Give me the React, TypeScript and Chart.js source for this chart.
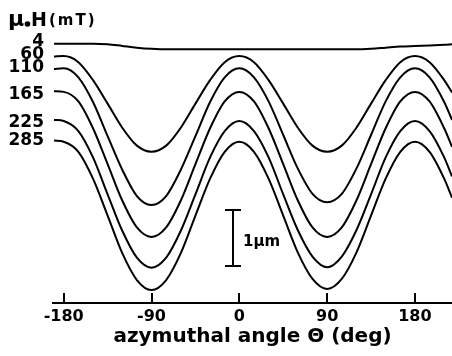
import React, { useEffect, useRef } from "react";
import { Chart, registerables } from "chart.js";

Chart.register(...registerables);

// azimuthal angle (deg)
const ANGLES = [-190, -180, -165, -150, -135, -120, -105, -90, -75, -60, -45, -30, -15, 0, 15, 30, 45, 60, 75, 90, 105, 120, 135, 150, 165, 180, 195, 210, 218];

// surface height (µm, relative to baseline) for each applied field
const H4 = [4.63, 4.63, 4.63, 4.63, 4.62, 4.59, 4.56, 4.54, 4.53, 4.53, 4.53, 4.53, 4.53, 4.53, 4.53, 4.53, 4.53, 4.53, 4.53, 4.53, 4.53, 4.53, 4.54, 4.56, 4.58, 4.59, 4.60, 4.61, 4.62];
const H60 = [4.40, 4.41, 4.30, 3.98, 3.56, 3.13, 2.81, 2.70, 2.81, 3.13, 3.56, 3.98, 4.30, 4.41, 4.30, 3.98, 3.56, 3.13, 2.81, 2.70, 2.81, 3.13, 3.56, 3.98, 4.30, 4.41, 4.30, 3.98, 3.76];
const H110 = [4.18, 4.19, 4.03, 3.59, 2.98, 2.38, 1.91, 1.75, 1.91, 2.38, 2.98, 3.59, 4.03, 4.19, 4.03, 3.60, 3.00, 2.40, 1.95, 1.80, 1.95, 2.40, 3.00, 3.60, 4.03, 4.19, 4.03, 3.59, 3.27];
const H165 = [3.78, 3.77, 3.60, 3.12, 2.48, 1.83, 1.35, 1.18, 1.35, 1.83, 2.48, 3.12, 3.60, 3.77, 3.60, 3.12, 2.48, 1.83, 1.35, 1.18, 1.35, 1.83, 2.48, 3.12, 3.60, 3.77, 3.60, 3.12, 2.79];
const H225 = [3.27, 3.25, 3.07, 2.60, 1.94, 1.29, 0.81, 0.63, 0.81, 1.29, 1.94, 2.60, 3.07, 3.25, 3.07, 2.60, 1.94, 1.30, 0.83, 0.64, 0.83, 1.30, 1.94, 2.60, 3.07, 3.25, 3.07, 2.60, 2.26];
const H285 = [2.90, 2.88, 2.70, 2.22, 1.56, 0.89, 0.41, 0.23, 0.41, 0.89, 1.56, 2.22, 2.70, 2.88, 2.70, 2.22, 1.56, 0.90, 0.43, 0.25, 0.43, 0.90, 1.56, 2.22, 2.70, 2.88, 2.70, 2.22, 1.88];

const FIELD_LABELS = ["4", "60", "110", "165", "225", "285"];
const SERIES = [H4, H60, H110, H165, H225, H285];
const X_TICKS = [-180, -90, 0, 90, 180];
const X_TITLE = "azymuthal angle \u0398 (deg)";
const SCALE_BAR_LABEL = "1\u03bcm";
const SCALE_BAR_ANGLE = -7.5;
const SCALE_BAR_FROM = 0.66; // µm
const SCALE_BAR_LENGTH = 1; // µm

const FONT = "'DejaVu Sans', sans-serif";
// label vertical pixel centres (positions only)
const LABEL_Y = [42, 55, 68, 95, 123, 141];

const decorPlugin = {
  id: "decor",
  beforeDraw(chart: any) {
    const ctx = chart.ctx;
    ctx.save();
    ctx.fillStyle = "#fff";
    ctx.fillRect(0, 0, chart.width, chart.height);
    ctx.restore();
  },
  afterDraw(chart: any) {
    const ctx = chart.ctx;
    const xs = chart.scales.x;
    const ys = chart.scales.y;
    const bottom = chart.chartArea.bottom;
    ctx.save();
    ctx.strokeStyle = "#000";
    ctx.fillStyle = "#000";
    // upward tick marks
    ctx.lineWidth = 2;
    X_TICKS.forEach((v) => {
      const x = Math.round(xs.getPixelForValue(v));
      ctx.beginPath();
      ctx.moveTo(x, bottom);
      ctx.lineTo(x, bottom - 10);
      ctx.stroke();
    });
    // header μ0H(mT)
    ctx.textBaseline = "alphabetic";
    ctx.textAlign = "left";
    ctx.font = `bold 22px ${FONT}`;
    ctx.fillText("\u03bc", 8, 26);
    ctx.beginPath();
    ctx.arc(27.5, 24, 2.8, 0, Math.PI * 2);
    ctx.fill();
    ctx.font = `bold 19px ${FONT}`;
    ctx.fillText("H", 31, 26);
    ctx.font = `bold 15px ${FONT}`;
    try { (ctx as any).letterSpacing = "2px"; } catch (e) {}
    ctx.fillText("(mT)", 49, 25);
    try { (ctx as any).letterSpacing = "0px"; } catch (e) {}
    // field labels
    ctx.textAlign = "right";
    ctx.textBaseline = "middle";
    ctx.font = `bold 17px ${FONT}`;
    FIELD_LABELS.forEach((t, i) => {
      ctx.fillText(t, 44, LABEL_Y[i]);
    });
    // scale bar
    const sx = Math.round(xs.getPixelForValue(SCALE_BAR_ANGLE)) + 1;
    const y1 = ys.getPixelForValue(SCALE_BAR_FROM);
    const y2 = ys.getPixelForValue(SCALE_BAR_FROM + SCALE_BAR_LENGTH);
    ctx.lineWidth = 2;
    ctx.beginPath();
    ctx.moveTo(sx, y1);
    ctx.lineTo(sx, y2);
    ctx.moveTo(sx - 8, y1);
    ctx.lineTo(sx + 8, y1);
    ctx.moveTo(sx - 8, y2);
    ctx.lineTo(sx + 8, y2);
    ctx.stroke();
    ctx.textAlign = "left";
    ctx.font = `bold 15px ${FONT}`;
    ctx.fillText(SCALE_BAR_LABEL, sx + 10, (y1 + y2) / 2 + 4);
    ctx.restore();
  },
};

export default function App() {
  const ref = useRef<HTMLCanvasElement | null>(null);
  useEffect(() => {
    if (!ref.current) return;
    const chart = new Chart(ref.current, {
      type: "line",
      data: {
        datasets: SERIES.map((s, i) => ({
          label: FIELD_LABELS[i],
          data: ANGLES.map((a, j) => ({ x: a, y: s[j] })),
          borderColor: "#000",
          borderWidth: 2,
          pointRadius: 0,
          fill: false,
          cubicInterpolationMode: "monotone" as const,
        })),
      },
      options: {
        animation: false,
        responsive: true,
        maintainAspectRatio: false,
        layout: { padding: { left: 53, right: 0, top: 0, bottom: 0 } },
        plugins: { legend: { display: false }, tooltip: { enabled: false } },
        scales: {
          x: {
            type: "linear",
            min: -191,
            max: 218,
            afterBuildTicks: (scale: any) => {
              scale.ticks = X_TICKS.map((v) => ({ value: v }));
            },
            afterFit: (scale: any) => {
              scale.height = 53;
            },
            grid: { display: false, drawTicks: false },
            border: { display: true, color: "#000", width: 2 },
            ticks: {
              color: "#000",
              padding: 4,
              maxRotation: 0,
              autoSkip: false,
              font: { family: FONT, size: 16, weight: "bold" },
              callback: (v: any) => String(v),
            },
            title: {
              display: true,
              text: X_TITLE,
              color: "#000",
              padding: { top: 0, bottom: 7 },
              font: { family: FONT, size: 20, weight: "bold" },
            },
          },
          y: {
            type: "linear",
            display: false,
            min: 0,
            max: 303 / 56,
          },
        },
      },
      plugins: [decorPlugin],
    });
    return () => chart.destroy();
  }, []);
  return (
    <div style={{ position: "absolute", left: 0, top: 0, width: 452, height: 356 }}>
      <canvas ref={ref} />
    </div>
  );
}
